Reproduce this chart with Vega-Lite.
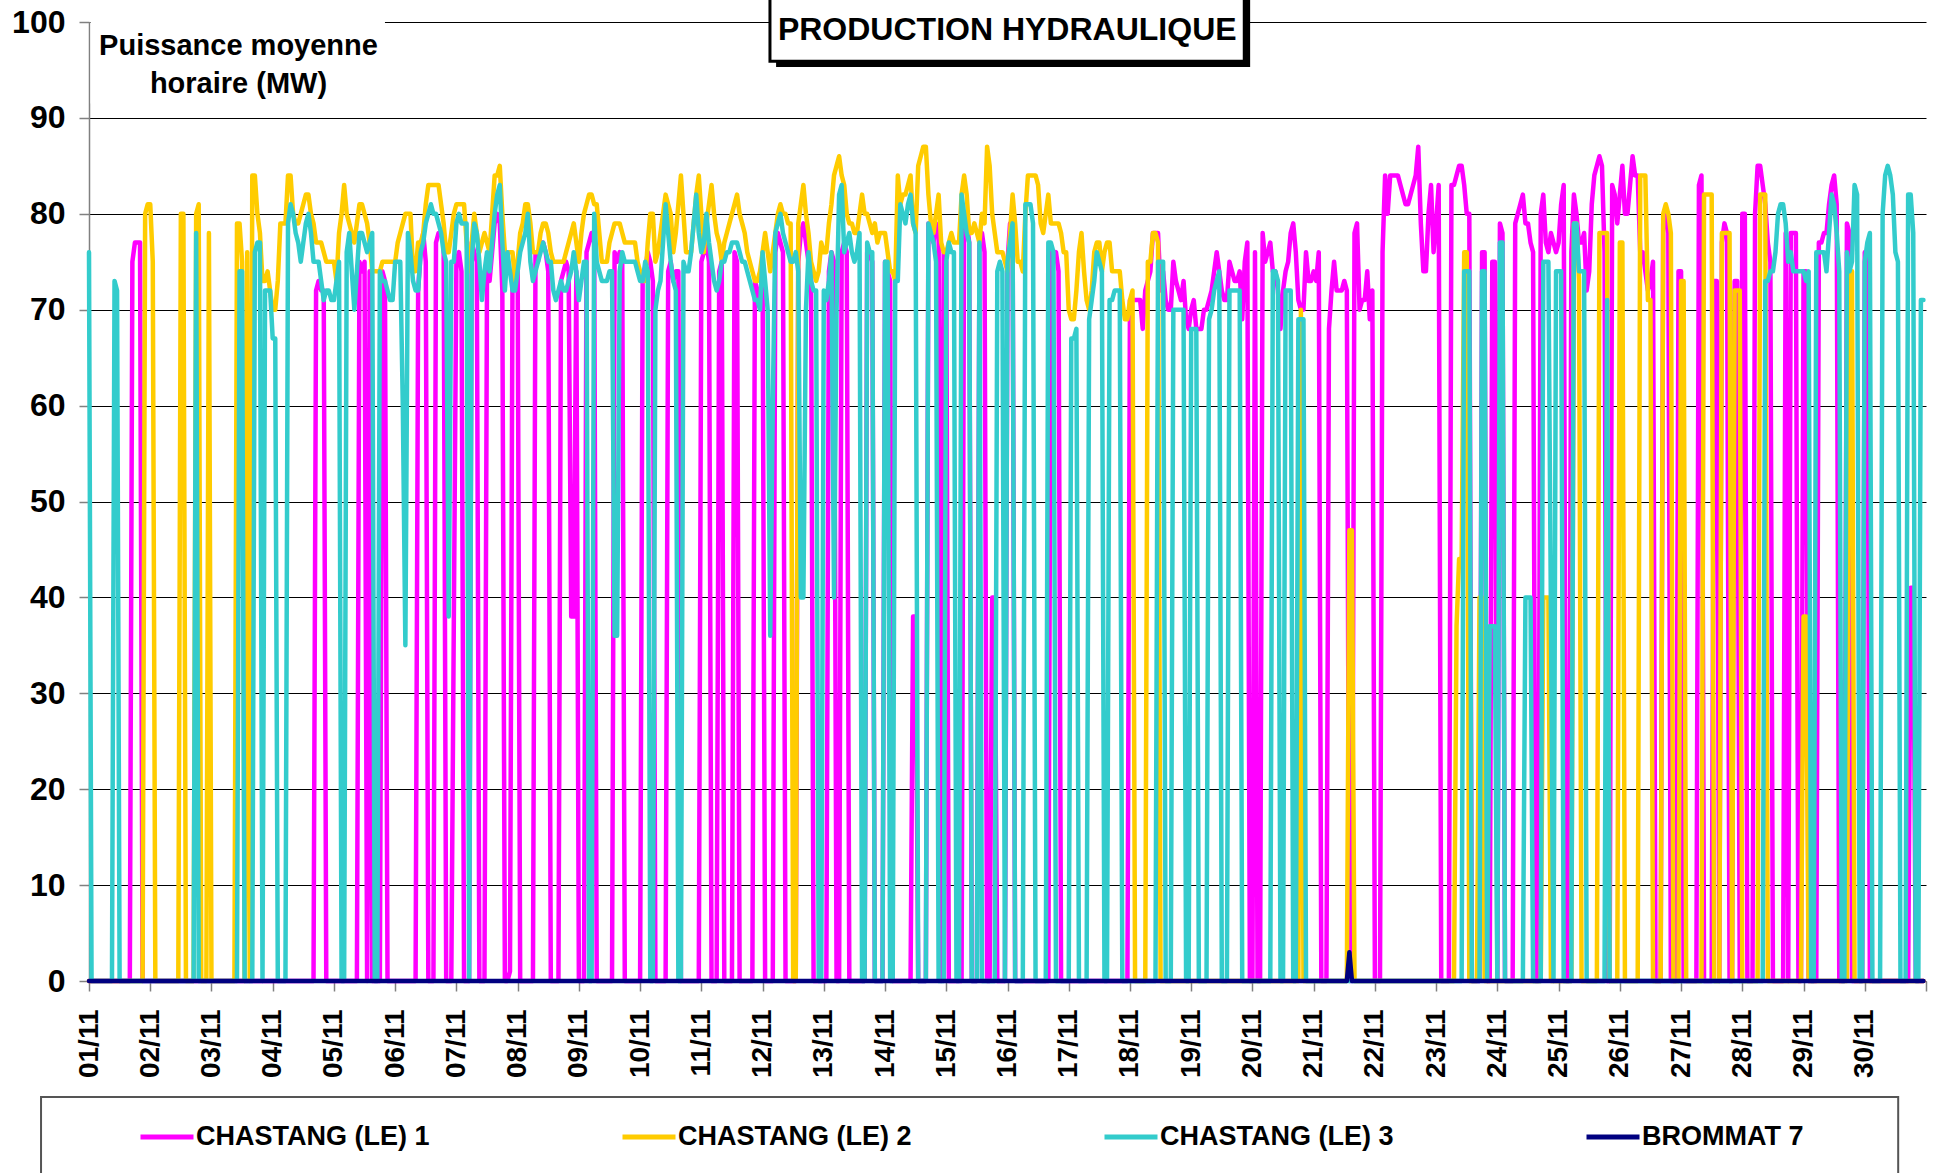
{
"$schema": "https://vega.github.io/schema/vega-lite/v6.json",
"width": 1837, "height": 959,
"autosize": {"type": "none"},
"padding": {"left": 89, "top": 22, "right": 7, "bottom": 192},
"background": "white",
"config": {"view": {"stroke": null}, "font": "Liberation Sans"},
"datasets": {"p": [
{"h":0,"a":0,"b":0,"c":76,"d":0},{"h":1,"a":0,"b":0,"c":0,"d":0},{"h":2,"a":0,"b":0,"c":0,"d":0},{"h":3,"a":0,"b":0,"c":0,"d":0},{"h":4,"a":0,"b":0,"c":0,"d":0},{"h":5,"a":0,"b":0,"c":0,"d":0},{"h":6,"a":0,"b":0,"c":0,"d":0},{"h":7,"a":0,"b":0,"c":0,"d":0},{"h":8,"a":0,"b":0,"c":0,"d":0},{"h":9,"a":0,"b":0,"c":0,"d":0},{"h":10,"a":0,"b":0,"c":73,"d":0},{"h":11,"a":0,"b":0,"c":72,"d":0},{"h":12,"a":0,"b":0,"c":0,"d":0},{"h":13,"a":0,"b":0,"c":0,"d":0},{"h":14,"a":0,"b":0,"c":0,"d":0},{"h":15,"a":0,"b":0,"c":0,"d":0},{"h":16,"a":0,"b":0,"c":0,"d":0},{"h":17,"a":75,"b":0,"c":0,"d":0},{"h":18,"a":77,"b":0,"c":0,"d":0},{"h":19,"a":77,"b":0,"c":0,"d":0},{"h":20,"a":77,"b":0,"c":0,"d":0},{"h":21,"a":0,"b":0,"c":0,"d":0},{"h":22,"a":0,"b":80,"c":0,"d":0},{"h":23,"a":0,"b":81,"c":0,"d":0},
{"h":24,"a":0,"b":81,"c":0,"d":0},{"h":25,"a":0,"b":75,"c":0,"d":0},{"h":26,"a":0,"b":0,"c":0,"d":0},{"h":27,"a":0,"b":0,"c":0,"d":0},{"h":28,"a":0,"b":0,"c":0,"d":0},{"h":29,"a":0,"b":0,"c":0,"d":0},{"h":30,"a":0,"b":0,"c":0,"d":0},{"h":31,"a":0,"b":0,"c":0,"d":0},{"h":32,"a":0,"b":0,"c":0,"d":0},{"h":33,"a":0,"b":0,"c":0,"d":0},{"h":34,"a":0,"b":0,"c":0,"d":0},{"h":35,"a":0,"b":0,"c":0,"d":0},{"h":36,"a":0,"b":80,"c":0,"d":0},{"h":37,"a":0,"b":80,"c":0,"d":0},{"h":38,"a":0,"b":0,"c":0,"d":0},{"h":39,"a":0,"b":0,"c":0,"d":0},{"h":40,"a":0,"b":0,"c":0,"d":0},{"h":41,"a":0,"b":0,"c":0,"d":0},{"h":42,"a":0,"b":80,"c":78,"d":0},{"h":43,"a":0,"b":81,"c":0,"d":0},{"h":44,"a":0,"b":0,"c":0,"d":0},{"h":45,"a":0,"b":0,"c":0,"d":0},{"h":46,"a":0,"b":0,"c":0,"d":0},{"h":47,"a":0,"b":78,"c":0,"d":0},
{"h":48,"a":0,"b":0,"c":0,"d":0},{"h":49,"a":0,"b":0,"c":0,"d":0},{"h":50,"a":0,"b":0,"c":0,"d":0},{"h":51,"a":0,"b":0,"c":0,"d":0},{"h":52,"a":0,"b":0,"c":0,"d":0},{"h":53,"a":0,"b":0,"c":0,"d":0},{"h":54,"a":0,"b":0,"c":0,"d":0},{"h":55,"a":0,"b":0,"c":0,"d":0},{"h":56,"a":0,"b":0,"c":0,"d":0},{"h":57,"a":0,"b":0,"c":0,"d":0},{"h":58,"a":0,"b":79,"c":0,"d":0},{"h":59,"a":0,"b":79,"c":74,"d":0},{"h":60,"a":0,"b":75,"c":74,"d":0},{"h":61,"a":0,"b":0,"c":0,"d":0},{"h":62,"a":0,"b":76,"c":0,"d":0},{"h":63,"a":0,"b":0,"c":0,"d":0},{"h":64,"a":0,"b":84,"c":0,"d":0},{"h":65,"a":0,"b":84,"c":76,"d":0},{"h":66,"a":0,"b":80,"c":77,"d":0},{"h":67,"a":0,"b":78,"c":77,"d":0},{"h":68,"a":0,"b":73,"c":0,"d":0},{"h":69,"a":0,"b":73,"c":72,"d":0},{"h":70,"a":0,"b":74,"c":72,"d":0},{"h":71,"a":0,"b":72,"c":72,"d":0},
{"h":72,"a":0,"b":70,"c":67,"d":0},{"h":73,"a":0,"b":70,"c":67,"d":0},{"h":74,"a":0,"b":73,"c":0,"d":0},{"h":75,"a":0,"b":79,"c":0,"d":0},{"h":76,"a":0,"b":79,"c":0,"d":0},{"h":77,"a":0,"b":79,"c":0,"d":0},{"h":78,"a":0,"b":84,"c":79,"d":0},{"h":79,"a":0,"b":84,"c":81,"d":0},{"h":80,"a":0,"b":80,"c":80,"d":0},{"h":81,"a":0,"b":79,"c":78,"d":0},{"h":82,"a":0,"b":79,"c":77,"d":0},{"h":83,"a":0,"b":80,"c":75,"d":0},{"h":84,"a":0,"b":81,"c":77,"d":0},{"h":85,"a":0,"b":82,"c":79,"d":0},{"h":86,"a":0,"b":82,"c":80,"d":0},{"h":87,"a":0,"b":80,"c":78,"d":0},{"h":88,"a":0,"b":79,"c":75,"d":0},{"h":89,"a":72,"b":77,"c":75,"d":0},{"h":90,"a":73,"b":77,"c":75,"d":0},{"h":91,"a":72,"b":77,"c":73,"d":0},{"h":92,"a":72,"b":76,"c":71,"d":0},{"h":93,"a":0,"b":75,"c":72,"d":0},{"h":94,"a":0,"b":75,"c":72,"d":0},{"h":95,"a":0,"b":75,"c":71,"d":0},
{"h":96,"a":0,"b":75,"c":71,"d":0},{"h":97,"a":0,"b":73,"c":73,"d":0},{"h":98,"a":0,"b":78,"c":75,"d":0},{"h":99,"a":0,"b":80,"c":0,"d":0},{"h":100,"a":0,"b":83,"c":0,"d":0},{"h":101,"a":0,"b":80,"c":76,"d":0},{"h":102,"a":0,"b":79,"c":78,"d":0},{"h":103,"a":0,"b":78,"c":74,"d":0},{"h":104,"a":0,"b":77,"c":70,"d":0},{"h":105,"a":0,"b":79,"c":74,"d":0},{"h":106,"a":75,"b":81,"c":78,"d":0},{"h":107,"a":74,"b":81,"c":78,"d":0},{"h":108,"a":75,"b":80,"c":77,"d":0},{"h":109,"a":0,"b":79,"c":76,"d":0},{"h":110,"a":74,"b":77,"c":77,"d":0},{"h":111,"a":0,"b":74,"c":78,"d":0},{"h":112,"a":0,"b":74,"c":0,"d":0},{"h":113,"a":0,"b":74,"c":0,"d":0},{"h":114,"a":0,"b":74,"c":74,"d":0},{"h":115,"a":74,"b":75,"c":73,"d":0},{"h":116,"a":73,"b":75,"c":73,"d":0},{"h":117,"a":0,"b":75,"c":72,"d":0},{"h":118,"a":0,"b":75,"c":71,"d":0},{"h":119,"a":0,"b":75,"c":71,"d":0},
{"h":120,"a":0,"b":75,"c":75,"d":0},{"h":121,"a":0,"b":77,"c":75,"d":0},{"h":122,"a":0,"b":78,"c":75,"d":0},{"h":123,"a":0,"b":79,"c":60,"d":0},{"h":124,"a":0,"b":80,"c":35,"d":0},{"h":125,"a":0,"b":80,"c":78,"d":0},{"h":126,"a":0,"b":80,"c":76,"d":0},{"h":127,"a":0,"b":74,"c":73,"d":0},{"h":128,"a":0,"b":74,"c":72,"d":0},{"h":129,"a":72,"b":77,"c":72,"d":0},{"h":130,"a":76,"b":77,"c":76,"d":0},{"h":131,"a":78,"b":78,"c":77,"d":0},{"h":132,"a":75,"b":81,"c":79,"d":0},{"h":133,"a":0,"b":83,"c":80,"d":0},{"h":134,"a":0,"b":83,"c":81,"d":0},{"h":135,"a":0,"b":83,"c":80,"d":0},{"h":136,"a":77,"b":83,"c":80,"d":0},{"h":137,"a":78,"b":83,"c":79,"d":0},{"h":138,"a":78,"b":81,"c":78,"d":0},{"h":139,"a":77,"b":79,"c":76,"d":0},{"h":140,"a":0,"b":76,"c":75,"d":0},{"h":141,"a":0,"b":76,"c":38,"d":0},{"h":142,"a":0,"b":78,"c":75,"d":0},{"h":143,"a":38,"b":80,"c":75,"d":0},
{"h":144,"a":75,"b":81,"c":79,"d":0},{"h":145,"a":76,"b":81,"c":80,"d":0},{"h":146,"a":74,"b":81,"c":79,"d":0},{"h":147,"a":0,"b":81,"c":79,"d":0},{"h":148,"a":0,"b":77,"c":79,"d":0},{"h":149,"a":0,"b":74,"c":0,"d":0},{"h":150,"a":77,"b":77,"c":75,"d":0},{"h":151,"a":76,"b":80,"c":79,"d":0},{"h":152,"a":75,"b":78,"c":78,"d":0},{"h":153,"a":0,"b":76,"c":75,"d":0},{"h":154,"a":0,"b":77,"c":71,"d":0},{"h":155,"a":0,"b":78,"c":74,"d":0},{"h":156,"a":74,"b":77,"c":76,"d":0},{"h":157,"a":73,"b":76,"c":74,"d":0},{"h":158,"a":76,"b":80,"c":77,"d":0},{"h":159,"a":79,"b":84,"c":80,"d":0},{"h":160,"a":80,"b":84,"c":82,"d":0},{"h":161,"a":79,"b":85,"c":83,"d":0},{"h":162,"a":72,"b":80,"c":77,"d":0},{"h":163,"a":0,"b":76,"c":72,"d":0},{"h":164,"a":0,"b":76,"c":76,"d":0},{"h":165,"a":1,"b":76,"c":74,"d":0},{"h":166,"a":74,"b":76,"c":72,"d":0},{"h":167,"a":73,"b":73,"c":72,"d":0},
{"h":168,"a":75,"b":75,"c":74,"d":0},{"h":169,"a":0,"b":78,"c":76,"d":0},{"h":170,"a":0,"b":79,"c":77,"d":0},{"h":171,"a":0,"b":81,"c":78,"d":0},{"h":172,"a":0,"b":81,"c":80,"d":0},{"h":173,"a":0,"b":79,"c":75,"d":0},{"h":174,"a":0,"b":76,"c":73,"d":0},{"h":175,"a":76,"b":76,"c":74,"d":0},{"h":176,"a":75,"b":76,"c":75,"d":0},{"h":177,"a":77,"b":78,"c":76,"d":0},{"h":178,"a":77,"b":79,"c":77,"d":0},{"h":179,"a":76,"b":79,"c":76,"d":0},{"h":180,"a":74,"b":78,"c":75,"d":0},{"h":181,"a":0,"b":76,"c":75,"d":0},{"h":182,"a":0,"b":75,"c":72,"d":0},{"h":183,"a":0,"b":75,"c":71,"d":0},{"h":184,"a":0,"b":75,"c":72,"d":0},{"h":185,"a":73,"b":75,"c":73,"d":0},{"h":186,"a":74,"b":75,"c":72,"d":0},{"h":187,"a":75,"b":76,"c":72,"d":0},{"h":188,"a":74,"b":77,"c":73,"d":0},{"h":189,"a":38,"b":78,"c":74,"d":0},{"h":190,"a":38,"b":79,"c":76,"d":0},{"h":191,"a":74,"b":77,"c":74,"d":0},
{"h":192,"a":0,"b":75,"c":71,"d":0},{"h":193,"a":0,"b":78,"c":73,"d":0},{"h":194,"a":0,"b":80,"c":75,"d":0},{"h":195,"a":76,"b":81,"c":75,"d":0},{"h":196,"a":77,"b":82,"c":0,"d":0},{"h":197,"a":78,"b":82,"c":0,"d":0},{"h":198,"a":77,"b":81,"c":80,"d":0},{"h":199,"a":0,"b":81,"c":75,"d":0},{"h":200,"a":0,"b":78,"c":74,"d":0},{"h":201,"a":0,"b":75,"c":73,"d":0},{"h":202,"a":0,"b":75,"c":73,"d":0},{"h":203,"a":0,"b":75,"c":73,"d":0},{"h":204,"a":0,"b":77,"c":74,"d":0},{"h":205,"a":0,"b":78,"c":74,"d":0},{"h":206,"a":76,"b":79,"c":36,"d":0},{"h":207,"a":75,"b":79,"c":36,"d":0},{"h":208,"a":76,"b":79,"c":74,"d":0},{"h":209,"a":75,"b":78,"c":76,"d":0},{"h":210,"a":0,"b":77,"c":75,"d":0},{"h":211,"a":0,"b":77,"c":75,"d":0},{"h":212,"a":0,"b":77,"c":75,"d":0},{"h":213,"a":0,"b":77,"c":75,"d":0},{"h":214,"a":0,"b":77,"c":75,"d":0},{"h":215,"a":0,"b":75,"c":74,"d":0},
{"h":216,"a":0,"b":74,"c":73,"d":0},{"h":217,"a":73,"b":73,"c":73,"d":0},{"h":218,"a":74,"b":73,"c":75,"d":0},{"h":219,"a":76,"b":77,"c":74,"d":0},{"h":220,"a":75,"b":80,"c":0,"d":0},{"h":221,"a":73,"b":80,"c":0,"d":0},{"h":222,"a":0,"b":75,"c":70,"d":0},{"h":223,"a":0,"b":76,"c":72,"d":0},{"h":224,"a":0,"b":78,"c":73,"d":0},{"h":225,"a":0,"b":80,"c":77,"d":0},{"h":226,"a":0,"b":82,"c":81,"d":0},{"h":227,"a":74,"b":81,"c":78,"d":0},{"h":228,"a":75,"b":80,"c":75,"d":0},{"h":229,"a":73,"b":76,"c":73,"d":0},{"h":230,"a":74,"b":78,"c":72,"d":0},{"h":231,"a":74,"b":81,"c":0,"d":0},{"h":232,"a":0,"b":84,"c":0,"d":0},{"h":233,"a":0,"b":80,"c":75,"d":0},{"h":234,"a":0,"b":76,"c":74,"d":0},{"h":235,"a":0,"b":76,"c":74,"d":0},{"h":236,"a":0,"b":76,"c":76,"d":0},{"h":237,"a":0,"b":79,"c":79,"d":0},{"h":238,"a":0,"b":82,"c":82,"d":0},{"h":239,"a":0,"b":84,"c":78,"d":0},
{"h":240,"a":75,"b":80,"c":76,"d":0},{"h":241,"a":76,"b":76,"c":77,"d":0},{"h":242,"a":77,"b":79,"c":80,"d":0},{"h":243,"a":75,"b":81,"c":77,"d":0},{"h":244,"a":0,"b":83,"c":75,"d":0},{"h":245,"a":0,"b":80,"c":73,"d":0},{"h":246,"a":0,"b":78,"c":72,"d":0},{"h":247,"a":74,"b":77,"c":73,"d":0},{"h":248,"a":75,"b":75,"c":75,"d":0},{"h":249,"a":0,"b":77,"c":75,"d":0},{"h":250,"a":0,"b":78,"c":76,"d":0},{"h":251,"a":0,"b":79,"c":76,"d":0},{"h":252,"a":0,"b":80,"c":77,"d":0},{"h":253,"a":76,"b":81,"c":77,"d":0},{"h":254,"a":75,"b":82,"c":77,"d":0},{"h":255,"a":0,"b":80,"c":76,"d":0},{"h":256,"a":0,"b":79,"c":75,"d":0},{"h":257,"a":0,"b":78,"c":75,"d":0},{"h":258,"a":0,"b":76,"c":74,"d":0},{"h":259,"a":0,"b":75,"c":73,"d":0},{"h":260,"a":0,"b":74,"c":72,"d":0},{"h":261,"a":73,"b":73,"c":71,"d":0},{"h":262,"a":72,"b":73,"c":71,"d":0},{"h":263,"a":71,"b":74,"c":70,"d":0},
{"h":264,"a":74,"b":76,"c":76,"d":0},{"h":265,"a":0,"b":78,"c":73,"d":0},{"h":266,"a":0,"b":76,"c":70,"d":0},{"h":267,"a":0,"b":74,"c":36,"d":0},{"h":268,"a":0,"b":76,"c":60,"d":0},{"h":269,"a":76,"b":78,"c":78,"d":0},{"h":270,"a":78,"b":80,"c":79,"d":0},{"h":271,"a":77,"b":81,"c":80,"d":0},{"h":272,"a":76,"b":80,"c":78,"d":0},{"h":273,"a":0,"b":80,"c":77,"d":0},{"h":274,"a":0,"b":79,"c":76,"d":0},{"h":275,"a":0,"b":79,"c":75,"d":0},{"h":276,"a":0,"b":0,"c":75,"d":0},{"h":277,"a":0,"b":0,"c":76,"d":0},{"h":278,"a":75,"b":79,"c":74,"d":0},{"h":279,"a":78,"b":81,"c":40,"d":0},{"h":280,"a":79,"b":83,"c":40,"d":0},{"h":281,"a":77,"b":80,"c":70,"d":0},{"h":282,"a":75,"b":78,"c":76,"d":0},{"h":283,"a":74,"b":75,"c":73,"d":0},{"h":284,"a":0,"b":74,"c":72,"d":0},{"h":285,"a":0,"b":73,"c":72,"d":0},{"h":286,"a":0,"b":74,"c":0,"d":0},{"h":287,"a":0,"b":77,"c":0,"d":0},
{"h":288,"a":0,"b":76,"c":72,"d":0},{"h":289,"a":0,"b":76,"c":71,"d":0},{"h":290,"a":74,"b":79,"c":73,"d":0},{"h":291,"a":76,"b":81,"c":76,"d":0},{"h":292,"a":75,"b":84,"c":40,"d":0},{"h":293,"a":0,"b":85,"c":70,"d":0},{"h":294,"a":0,"b":86,"c":82,"d":0},{"h":295,"a":76,"b":84,"c":83,"d":0},{"h":296,"a":77,"b":83,"c":76,"d":0},{"h":297,"a":76,"b":80,"c":77,"d":0},{"h":298,"a":0,"b":79,"c":78,"d":0},{"h":299,"a":0,"b":79,"c":76,"d":0},{"h":300,"a":0,"b":78,"c":75,"d":0},{"h":301,"a":0,"b":78,"c":76,"d":0},{"h":302,"a":0,"b":80,"c":78,"d":0},{"h":303,"a":0,"b":82,"c":0,"d":0},{"h":304,"a":0,"b":80,"c":0,"d":0},{"h":305,"a":76,"b":80,"c":77,"d":0},{"h":306,"a":76,"b":79,"c":76,"d":0},{"h":307,"a":75,"b":78,"c":76,"d":0},{"h":308,"a":0,"b":79,"c":0,"d":0},{"h":309,"a":0,"b":77,"c":0,"d":0},{"h":310,"a":0,"b":78,"c":0,"d":0},{"h":311,"a":0,"b":78,"c":0,"d":0},
{"h":312,"a":75,"b":78,"c":75,"d":0},{"h":313,"a":74,"b":76,"c":75,"d":0},{"h":314,"a":73,"b":74,"c":0,"d":0},{"h":315,"a":0,"b":74,"c":0,"d":0},{"h":316,"a":0,"b":73,"c":73,"d":0},{"h":317,"a":0,"b":84,"c":73,"d":0},{"h":318,"a":0,"b":81,"c":81,"d":0},{"h":319,"a":0,"b":82,"c":80,"d":0},{"h":320,"a":0,"b":82,"c":79,"d":0},{"h":321,"a":0,"b":83,"c":81,"d":0},{"h":322,"a":0,"b":84,"c":82,"d":0},{"h":323,"a":38,"b":79,"c":79,"d":0},{"h":324,"a":38,"b":78,"c":78,"d":0},{"h":325,"a":0,"b":85,"c":0,"d":0},{"h":326,"a":0,"b":86,"c":0,"d":0},{"h":327,"a":0,"b":87,"c":0,"d":0},{"h":328,"a":0,"b":87,"c":0,"d":0},{"h":329,"a":79,"b":82,"c":79,"d":0},{"h":330,"a":78,"b":79,"c":78,"d":0},{"h":331,"a":77,"b":78,"c":77,"d":0},{"h":332,"a":79,"b":80,"c":75,"d":0},{"h":333,"a":78,"b":82,"c":0,"d":0},{"h":334,"a":0,"b":77,"c":0,"d":0},{"h":335,"a":76,"b":76,"c":0,"d":0},
{"h":336,"a":75,"b":76,"c":75,"d":0},{"h":337,"a":0,"b":77,"c":77,"d":0},{"h":338,"a":0,"b":78,"c":76,"d":0},{"h":339,"a":0,"b":77,"c":76,"d":0},{"h":340,"a":0,"b":77,"c":0,"d":0},{"h":341,"a":0,"b":77,"c":0,"d":0},{"h":342,"a":0,"b":82,"c":82,"d":0},{"h":343,"a":80,"b":84,"c":80,"d":0},{"h":344,"a":79,"b":82,"c":78,"d":0},{"h":345,"a":77,"b":78,"c":77,"d":0},{"h":346,"a":0,"b":78,"c":0,"d":0},{"h":347,"a":0,"b":79,"c":0,"d":0},{"h":348,"a":0,"b":78,"c":0,"d":0},{"h":349,"a":77,"b":77,"c":77,"d":0},{"h":350,"a":78,"b":80,"c":0,"d":0},{"h":351,"a":76,"b":79,"c":0,"d":0},{"h":352,"a":0,"b":87,"c":0,"d":0},{"h":353,"a":0,"b":85,"c":0,"d":0},{"h":354,"a":40,"b":80,"c":0,"d":0},{"h":355,"a":40,"b":78,"c":0,"d":0},{"h":356,"a":0,"b":76,"c":74,"d":0},{"h":357,"a":0,"b":76,"c":75,"d":0},{"h":358,"a":0,"b":76,"c":74,"d":0},{"h":359,"a":0,"b":75,"c":0,"d":0},
{"h":360,"a":75,"b":74,"c":75,"d":0},{"h":361,"a":79,"b":78,"c":77,"d":0},{"h":362,"a":78,"b":82,"c":79,"d":0},{"h":363,"a":0,"b":79,"c":0,"d":0},{"h":364,"a":0,"b":75,"c":0,"d":0},{"h":365,"a":0,"b":75,"c":0,"d":0},{"h":366,"a":0,"b":74,"c":0,"d":0},{"h":367,"a":0,"b":80,"c":81,"d":0},{"h":368,"a":0,"b":84,"c":81,"d":0},{"h":369,"a":0,"b":84,"c":81,"d":0},{"h":370,"a":0,"b":84,"c":79,"d":0},{"h":371,"a":0,"b":84,"c":0,"d":0},{"h":372,"a":0,"b":83,"c":0,"d":0},{"h":373,"a":0,"b":79,"c":0,"d":0},{"h":374,"a":0,"b":78,"c":0,"d":0},{"h":375,"a":0,"b":80,"c":0,"d":0},{"h":376,"a":0,"b":82,"c":77,"d":0},{"h":377,"a":76,"b":79,"c":77,"d":0},{"h":378,"a":75,"b":79,"c":76,"d":0},{"h":379,"a":76,"b":79,"c":0,"d":0},{"h":380,"a":74,"b":79,"c":0,"d":0},{"h":381,"a":0,"b":78,"c":0,"d":0},{"h":382,"a":0,"b":76,"c":0,"d":0},{"h":383,"a":0,"b":76,"c":0,"d":0},
{"h":384,"a":0,"b":70,"c":0,"d":0},{"h":385,"a":0,"b":69,"c":67,"d":0},{"h":386,"a":0,"b":69,"c":67,"d":0},{"h":387,"a":0,"b":72,"c":68,"d":0},{"h":388,"a":0,"b":76,"c":0,"d":0},{"h":389,"a":0,"b":78,"c":0,"d":0},{"h":390,"a":0,"b":74,"c":0,"d":0},{"h":391,"a":0,"b":71,"c":0,"d":0},{"h":392,"a":0,"b":70,"c":69,"d":0},{"h":393,"a":0,"b":72,"c":71,"d":0},{"h":394,"a":0,"b":76,"c":73,"d":0},{"h":395,"a":0,"b":77,"c":76,"d":0},{"h":396,"a":0,"b":77,"c":75,"d":0},{"h":397,"a":0,"b":74,"c":74,"d":0},{"h":398,"a":0,"b":76,"c":0,"d":0},{"h":399,"a":0,"b":77,"c":0,"d":0},{"h":400,"a":0,"b":77,"c":71,"d":0},{"h":401,"a":0,"b":74,"c":71,"d":0},{"h":402,"a":0,"b":74,"c":72,"d":0},{"h":403,"a":0,"b":74,"c":72,"d":0},{"h":404,"a":0,"b":74,"c":72,"d":0},{"h":405,"a":0,"b":71,"c":0,"d":0},{"h":406,"a":0,"b":69,"c":0,"d":0},{"h":407,"a":0,"b":69,"c":0,"d":0},
{"h":408,"a":71,"b":71,"c":0,"d":0},{"h":409,"a":71,"b":72,"c":0,"d":0},{"h":410,"a":71,"b":0,"c":0,"d":0},{"h":411,"a":71,"b":0,"c":0,"d":0},{"h":412,"a":71,"b":0,"c":0,"d":0},{"h":413,"a":68,"b":0,"c":0,"d":0},{"h":414,"a":72,"b":0,"c":0,"d":0},{"h":415,"a":73,"b":75,"c":0,"d":0},{"h":416,"a":74,"b":75,"c":0,"d":0},{"h":417,"a":78,"b":78,"c":0,"d":0},{"h":418,"a":78,"b":78,"c":0,"d":0},{"h":419,"a":78,"b":77,"c":75,"d":0},{"h":420,"a":72,"b":0,"c":75,"d":0},{"h":421,"a":74,"b":0,"c":75,"d":0},{"h":422,"a":71,"b":0,"c":0,"d":0},{"h":423,"a":70,"b":0,"c":0,"d":0},{"h":424,"a":70,"b":0,"c":0,"d":0},{"h":425,"a":75,"b":0,"c":70,"d":0},{"h":426,"a":73,"b":0,"c":70,"d":0},{"h":427,"a":72,"b":0,"c":70,"d":0},{"h":428,"a":71,"b":0,"c":70,"d":0},{"h":429,"a":73,"b":0,"c":70,"d":0},{"h":430,"a":69,"b":0,"c":0,"d":0},{"h":431,"a":68,"b":0,"c":0,"d":0},
{"h":432,"a":70,"b":0,"c":68,"d":0},{"h":433,"a":71,"b":0,"c":68,"d":0},{"h":434,"a":68,"b":0,"c":68,"d":0},{"h":435,"a":68,"b":0,"c":0,"d":0},{"h":436,"a":68,"b":0,"c":0,"d":0},{"h":437,"a":70,"b":0,"c":0,"d":0},{"h":438,"a":70,"b":0,"c":0,"d":0},{"h":439,"a":71,"b":0,"c":69,"d":0},{"h":440,"a":72,"b":0,"c":70,"d":0},{"h":441,"a":74,"b":0,"c":72,"d":0},{"h":442,"a":76,"b":0,"c":73,"d":0},{"h":443,"a":74,"b":0,"c":74,"d":0},{"h":444,"a":72,"b":0,"c":0,"d":0},{"h":445,"a":71,"b":0,"c":0,"d":0},{"h":446,"a":71,"b":0,"c":0,"d":0},{"h":447,"a":75,"b":0,"c":72,"d":0},{"h":448,"a":74,"b":0,"c":72,"d":0},{"h":449,"a":73,"b":0,"c":72,"d":0},{"h":450,"a":73,"b":0,"c":72,"d":0},{"h":451,"a":74,"b":0,"c":72,"d":0},{"h":452,"a":69,"b":0,"c":0,"d":0},{"h":453,"a":75,"b":0,"c":0,"d":0},{"h":454,"a":77,"b":0,"c":0,"d":0},{"h":455,"a":0,"b":0,"c":0,"d":0},
{"h":456,"a":0,"b":0,"c":0,"d":0},{"h":457,"a":76,"b":0,"c":0,"d":0},{"h":458,"a":0,"b":0,"c":0,"d":0},{"h":459,"a":0,"b":0,"c":0,"d":0},{"h":460,"a":78,"b":0,"c":0,"d":0},{"h":461,"a":75,"b":0,"c":0,"d":0},{"h":462,"a":76,"b":0,"c":0,"d":0},{"h":463,"a":77,"b":0,"c":0,"d":0},{"h":464,"a":74,"b":0,"c":74,"d":0},{"h":465,"a":74,"b":0,"c":74,"d":0},{"h":466,"a":72,"b":0,"c":73,"d":0},{"h":467,"a":68,"b":0,"c":0,"d":0},{"h":468,"a":72,"b":0,"c":0,"d":0},{"h":469,"a":74,"b":0,"c":72,"d":0},{"h":470,"a":75,"b":0,"c":72,"d":0},{"h":471,"a":78,"b":0,"c":72,"d":0},{"h":472,"a":79,"b":0,"c":0,"d":0},{"h":473,"a":76,"b":0,"c":0,"d":0},{"h":474,"a":71,"b":0,"c":69,"d":0},{"h":475,"a":70,"b":70,"c":69,"d":0},{"h":476,"a":70,"b":0,"c":69,"d":0},{"h":477,"a":76,"b":0,"c":0,"d":0},{"h":478,"a":73,"b":0,"c":0,"d":0},{"h":479,"a":73,"b":0,"c":0,"d":0},
{"h":480,"a":74,"b":0,"c":0,"d":0},{"h":481,"a":73,"b":0,"c":0,"d":0},{"h":482,"a":76,"b":0,"c":0,"d":0},{"h":483,"a":0,"b":0,"c":0,"d":0},{"h":484,"a":0,"b":0,"c":0,"d":0},{"h":485,"a":0,"b":0,"c":0,"d":0},{"h":486,"a":68,"b":0,"c":0,"d":0},{"h":487,"a":72,"b":0,"c":0,"d":0},{"h":488,"a":75,"b":0,"c":0,"d":0},{"h":489,"a":72,"b":0,"c":0,"d":0},{"h":490,"a":72,"b":0,"c":0,"d":0},{"h":491,"a":72,"b":0,"c":0,"d":0},{"h":492,"a":73,"b":0,"c":0,"d":0},{"h":493,"a":72,"b":0,"c":0,"d":0},{"h":494,"a":0,"b":47,"c":0,"d":3},{"h":495,"a":0,"b":47,"c":0,"d":0},{"h":496,"a":78,"b":0,"c":0,"d":0},{"h":497,"a":79,"b":0,"c":0,"d":0},{"h":498,"a":70,"b":0,"c":0,"d":0},{"h":499,"a":71,"b":0,"c":0,"d":0},{"h":500,"a":71,"b":0,"c":0,"d":0},{"h":501,"a":74,"b":0,"c":0,"d":0},{"h":502,"a":69,"b":0,"c":0,"d":0},{"h":503,"a":72,"b":0,"c":0,"d":0},
{"h":504,"a":0,"b":0,"c":0,"d":0},{"h":505,"a":0,"b":0,"c":0,"d":0},{"h":506,"a":0,"b":0,"c":0,"d":0},{"h":507,"a":76,"b":0,"c":0,"d":0},{"h":508,"a":84,"b":0,"c":0,"d":0},{"h":509,"a":80,"b":0,"c":0,"d":0},{"h":510,"a":84,"b":0,"c":0,"d":0},{"h":511,"a":84,"b":0,"c":0,"d":0},{"h":512,"a":84,"b":0,"c":0,"d":0},{"h":513,"a":84,"b":0,"c":0,"d":0},{"h":514,"a":83,"b":0,"c":0,"d":0},{"h":515,"a":82,"b":0,"c":0,"d":0},{"h":516,"a":81,"b":0,"c":0,"d":0},{"h":517,"a":81,"b":0,"c":0,"d":0},{"h":518,"a":82,"b":0,"c":0,"d":0},{"h":519,"a":83,"b":0,"c":0,"d":0},{"h":520,"a":84,"b":0,"c":0,"d":0},{"h":521,"a":87,"b":0,"c":0,"d":0},{"h":522,"a":79,"b":0,"c":0,"d":0},{"h":523,"a":74,"b":0,"c":0,"d":0},{"h":524,"a":74,"b":0,"c":0,"d":0},{"h":525,"a":80,"b":0,"c":0,"d":0},{"h":526,"a":83,"b":0,"c":0,"d":0},{"h":527,"a":76,"b":0,"c":0,"d":0},
{"h":528,"a":79,"b":0,"c":0,"d":0},{"h":529,"a":83,"b":0,"c":0,"d":0},{"h":530,"a":0,"b":0,"c":0,"d":0},{"h":531,"a":0,"b":0,"c":0,"d":0},{"h":532,"a":0,"b":0,"c":0,"d":0},{"h":533,"a":0,"b":0,"c":0,"d":0},{"h":534,"a":83,"b":0,"c":0,"d":0},{"h":535,"a":83,"b":0,"c":0,"d":0},{"h":536,"a":84,"b":37,"c":0,"d":0},{"h":537,"a":85,"b":44,"c":0,"d":0},{"h":538,"a":85,"b":44,"c":0,"d":0},{"h":539,"a":83,"b":76,"c":74,"d":0},{"h":540,"a":80,"b":76,"c":74,"d":0},{"h":541,"a":80,"b":0,"c":74,"d":0},{"h":542,"a":0,"b":0,"c":0,"d":0},{"h":543,"a":0,"b":0,"c":0,"d":0},{"h":544,"a":0,"b":0,"c":0,"d":0},{"h":545,"a":0,"b":40,"c":0,"d":0},{"h":546,"a":76,"b":40,"c":74,"d":0},{"h":547,"a":76,"b":0,"c":74,"d":0},{"h":548,"a":0,"b":0,"c":0,"d":0},{"h":549,"a":0,"b":0,"c":37,"d":0},{"h":550,"a":75,"b":0,"c":37,"d":0},{"h":551,"a":75,"b":0,"c":37,"d":0},
{"h":552,"a":0,"b":0,"c":0,"d":0},{"h":553,"a":79,"b":0,"c":77,"d":0},{"h":554,"a":78,"b":0,"c":77,"d":0},{"h":555,"a":0,"b":0,"c":0,"d":0},{"h":556,"a":0,"b":0,"c":0,"d":0},{"h":557,"a":0,"b":0,"c":0,"d":0},{"h":558,"a":0,"b":0,"c":0,"d":0},{"h":559,"a":79,"b":0,"c":0,"d":0},{"h":560,"a":80,"b":0,"c":0,"d":0},{"h":561,"a":81,"b":0,"c":0,"d":0},{"h":562,"a":82,"b":0,"c":0,"d":0},{"h":563,"a":79,"b":0,"c":40,"d":0},{"h":564,"a":79,"b":0,"c":40,"d":0},{"h":565,"a":77,"b":0,"c":40,"d":0},{"h":566,"a":76,"b":0,"c":0,"d":0},{"h":567,"a":0,"b":0,"c":0,"d":0},{"h":568,"a":0,"b":0,"c":0,"d":0},{"h":569,"a":80,"b":0,"c":0,"d":0},{"h":570,"a":82,"b":40,"c":75,"d":0},{"h":571,"a":77,"b":40,"c":75,"d":0},{"h":572,"a":76,"b":40,"c":75,"d":0},{"h":573,"a":78,"b":0,"c":38,"d":0},{"h":574,"a":77,"b":0,"c":0,"d":0},{"h":575,"a":76,"b":0,"c":74,"d":0},
{"h":576,"a":77,"b":0,"c":74,"d":0},{"h":577,"a":81,"b":0,"c":74,"d":0},{"h":578,"a":83,"b":0,"c":0,"d":0},{"h":579,"a":0,"b":0,"c":0,"d":0},{"h":580,"a":0,"b":0,"c":0,"d":0},{"h":581,"a":76,"b":0,"c":0,"d":0},{"h":582,"a":82,"b":79,"c":79,"d":0},{"h":583,"a":80,"b":79,"c":79,"d":0},{"h":584,"a":77,"b":73,"c":74,"d":0},{"h":585,"a":77,"b":0,"c":74,"d":0},{"h":586,"a":78,"b":0,"c":74,"d":0},{"h":587,"a":72,"b":0,"c":0,"d":0},{"h":588,"a":74,"b":0,"c":0,"d":0},{"h":589,"a":81,"b":0,"c":0,"d":0},{"h":590,"a":84,"b":0,"c":0,"d":0},{"h":591,"a":85,"b":0,"c":0,"d":0},{"h":592,"a":86,"b":78,"c":0,"d":0},{"h":593,"a":85,"b":78,"c":0,"d":0},{"h":594,"a":76,"b":78,"c":0,"d":0},{"h":595,"a":0,"b":78,"c":71,"d":0},{"h":596,"a":0,"b":0,"c":0,"d":0},{"h":597,"a":83,"b":0,"c":0,"d":0},{"h":598,"a":82,"b":0,"c":0,"d":0},{"h":599,"a":79,"b":0,"c":0,"d":0},
{"h":600,"a":82,"b":77,"c":0,"d":0},{"h":601,"a":85,"b":77,"c":0,"d":0},{"h":602,"a":80,"b":0,"c":0,"d":0},{"h":603,"a":80,"b":0,"c":0,"d":0},{"h":604,"a":83,"b":0,"c":0,"d":0},{"h":605,"a":86,"b":0,"c":0,"d":0},{"h":606,"a":84,"b":0,"c":0,"d":0},{"h":607,"a":84,"b":0,"c":0,"d":0},{"h":608,"a":76,"b":84,"c":0,"d":0},{"h":609,"a":76,"b":84,"c":0,"d":0},{"h":610,"a":74,"b":84,"c":0,"d":0},{"h":611,"a":72,"b":71,"c":0,"d":0},{"h":612,"a":73,"b":71,"c":0,"d":0},{"h":613,"a":75,"b":0,"c":0,"d":0},{"h":614,"a":0,"b":0,"c":0,"d":0},{"h":615,"a":0,"b":0,"c":0,"d":0},{"h":616,"a":0,"b":0,"c":0,"d":0},{"h":617,"a":79,"b":80,"c":0,"d":0},{"h":618,"a":80,"b":81,"c":0,"d":0},{"h":619,"a":78,"b":80,"c":0,"d":0},{"h":620,"a":0,"b":78,"c":0,"d":0},{"h":621,"a":0,"b":0,"c":0,"d":0},{"h":622,"a":0,"b":0,"c":0,"d":0},{"h":623,"a":74,"b":0,"c":0,"d":0},
{"h":624,"a":74,"b":73,"c":0,"d":0},{"h":625,"a":0,"b":73,"c":0,"d":0},{"h":626,"a":0,"b":0,"c":0,"d":0},{"h":627,"a":0,"b":0,"c":0,"d":0},{"h":628,"a":0,"b":0,"c":0,"d":0},{"h":629,"a":0,"b":0,"c":0,"d":0},{"h":630,"a":0,"b":0,"c":0,"d":0},{"h":631,"a":83,"b":0,"c":0,"d":0},{"h":632,"a":84,"b":0,"c":0,"d":0},{"h":633,"a":0,"b":82,"c":0,"d":0},{"h":634,"a":0,"b":82,"c":0,"d":0},{"h":635,"a":0,"b":82,"c":0,"d":0},{"h":636,"a":0,"b":82,"c":0,"d":0},{"h":637,"a":73,"b":0,"c":0,"d":0},{"h":638,"a":73,"b":0,"c":0,"d":0},{"h":639,"a":0,"b":0,"c":0,"d":0},{"h":640,"a":77,"b":78,"c":0,"d":0},{"h":641,"a":79,"b":78,"c":0,"d":0},{"h":642,"a":78,"b":78,"c":0,"d":0},{"h":643,"a":0,"b":78,"c":0,"d":0},{"h":644,"a":0,"b":0,"c":0,"d":0},{"h":645,"a":73,"b":72,"c":0,"d":0},{"h":646,"a":73,"b":72,"c":0,"d":0},{"h":647,"a":0,"b":72,"c":0,"d":0},
{"h":648,"a":80,"b":0,"c":0,"d":0},{"h":649,"a":80,"b":0,"c":0,"d":0},{"h":650,"a":0,"b":0,"c":0,"d":0},{"h":651,"a":0,"b":0,"c":0,"d":0},{"h":652,"a":0,"b":0,"c":0,"d":0},{"h":653,"a":80,"b":0,"c":0,"d":0},{"h":654,"a":85,"b":0,"c":0,"d":0},{"h":655,"a":85,"b":82,"c":0,"d":0},{"h":656,"a":83,"b":82,"c":0,"d":0},{"h":657,"a":81,"b":82,"c":73,"d":0},{"h":658,"a":77,"b":0,"c":73,"d":0},{"h":659,"a":75,"b":0,"c":74,"d":0},{"h":660,"a":0,"b":0,"c":74,"d":0},{"h":661,"a":0,"b":0,"c":76,"d":0},{"h":662,"a":0,"b":0,"c":80,"d":0},{"h":663,"a":0,"b":0,"c":81,"d":0},{"h":664,"a":0,"b":0,"c":81,"d":0},{"h":665,"a":78,"b":0,"c":79,"d":0},{"h":666,"a":0,"b":0,"c":75,"d":0},{"h":667,"a":78,"b":0,"c":76,"d":0},{"h":668,"a":78,"b":0,"c":74,"d":0},{"h":669,"a":78,"b":0,"c":74,"d":0},{"h":670,"a":0,"b":0,"c":74,"d":0},{"h":671,"a":0,"b":0,"c":74,"d":0},
{"h":672,"a":74,"b":38,"c":74,"d":0},{"h":673,"a":74,"b":38,"c":73,"d":0},{"h":674,"a":0,"b":0,"c":74,"d":0},{"h":675,"a":0,"b":0,"c":0,"d":0},{"h":676,"a":0,"b":0,"c":0,"d":0},{"h":677,"a":0,"b":0,"c":76,"d":0},{"h":678,"a":77,"b":0,"c":76,"d":0},{"h":679,"a":77,"b":0,"c":76,"d":0},{"h":680,"a":78,"b":0,"c":76,"d":0},{"h":681,"a":78,"b":0,"c":74,"d":0},{"h":682,"a":81,"b":0,"c":78,"d":0},{"h":683,"a":83,"b":0,"c":82,"d":0},{"h":684,"a":84,"b":0,"c":81,"d":0},{"h":685,"a":81,"b":0,"c":78,"d":0},{"h":686,"a":0,"b":0,"c":74,"d":0},{"h":687,"a":0,"b":0,"c":0,"d":0},{"h":688,"a":0,"b":0,"c":0,"d":0},{"h":689,"a":79,"b":0,"c":76,"d":0},{"h":690,"a":78,"b":74,"c":74,"d":0},{"h":691,"a":0,"b":74,"c":75,"d":0},{"h":692,"a":0,"b":0,"c":83,"d":0},{"h":693,"a":0,"b":0,"c":82,"d":0},{"h":694,"a":0,"b":0,"c":0,"d":0},{"h":695,"a":0,"b":0,"c":0,"d":0},
{"h":696,"a":76,"b":0,"c":75,"d":0},{"h":697,"a":76,"b":0,"c":77,"d":0},{"h":698,"a":0,"b":0,"c":78,"d":0},{"h":699,"a":0,"b":0,"c":0,"d":0},{"h":700,"a":0,"b":0,"c":0,"d":0},{"h":701,"a":0,"b":0,"c":0,"d":0},{"h":702,"a":0,"b":0,"c":0,"d":0},{"h":703,"a":0,"b":0,"c":80,"d":0},{"h":704,"a":0,"b":0,"c":84,"d":0},{"h":705,"a":0,"b":0,"c":85,"d":0},{"h":706,"a":0,"b":0,"c":84,"d":0},{"h":707,"a":0,"b":0,"c":82,"d":0},{"h":708,"a":0,"b":0,"c":76,"d":0},{"h":709,"a":0,"b":0,"c":75,"d":0},{"h":710,"a":0,"b":0,"c":0,"d":0},{"h":711,"a":0,"b":0,"c":0,"d":0},{"h":712,"a":0,"b":0,"c":0,"d":0},{"h":713,"a":0,"b":0,"c":82,"d":0},{"h":714,"a":41,"b":0,"c":82,"d":0},{"h":715,"a":41,"b":0,"c":78,"d":0},{"h":716,"a":0,"b":0,"c":0,"d":0},{"h":717,"a":0,"b":0,"c":0,"d":0},{"h":718,"a":0,"b":0,"c":71,"d":0},{"h":719,"a":0,"b":0,"c":71,"d":0}
]},
"data": {"name": "p"},
"layer": [
{"mark": {"type": "line", "strokeWidth": 4.5, "strokeJoin": "round", "strokeCap": "round"},
 "encoding": {
  "x": {"field": "h", "type": "quantitative", "scale": {"domain": [0, 720], "nice": false, "zero": false},
   "axis": {"title": null, "values": [0,24,48,72,96,120,144,168,192,216,240,264,288,312,336,360,384,408,432,456,480,504,528,552,576,600,624,648,672,696,720],
    "labelExpr": "datum.value >= 720 ? '' : (datum.value < 216 ? '0' : '') + (datum.value / 24 + 1) + '/11'",
    "labelAngle": -90, "labelFont": "Liberation Sans", "labelFontSize": 28, "labelFontWeight": "bold", "labelColor": "black",
    "labelPadding": 18, "tickSize": 10, "tickColor": "#808080", "tickWidth": 1.5, "domain": false, "grid": false, "labelOverlap": false}},
  "y": {"field": "a", "type": "quantitative", "scale": {"domain": [0, 100], "nice": false},
   "axis": {"title": null, "values": [0,10,20,30,40,50,60,70,80,90,100], "labelFont": "Liberation Sans", "labelFontSize": 32, "labelFontWeight": "bold", "labelColor": "black",
    "labelPadding": 14, "tickSize": 10, "tickColor": "#808080", "tickWidth": 1.5, "domainColor": "#808080", "domainWidth": 1.5,
    "grid": true, "gridColor": "#000000", "gridWidth": 1, "gridOpacity": 1}},
  "color": {"datum": "CHASTANG (LE) 1", "type": "nominal",
   "scale": {"domain": ["CHASTANG (LE) 1", "CHASTANG (LE) 2", "CHASTANG (LE) 3", "BROMMAT 7"], "range": ["#FF00FF", "#FFCC00", "#33CCCC", "#000080"]},
   "legend": {"orient": "none", "legendX": 49, "legendY": 1086, "direction": "horizontal", "title": null,
    "symbolType": "stroke", "symbolSize": 2809, "symbolStrokeWidth": 5, "labelFont": "Liberation Sans", "labelFontSize": 27,
    "labelFontWeight": "bold", "labelColor": "black", "labelOffset": 0, "columnPadding": 182, "padding": 0, "labelLimit": 0}}}},
{"mark": {"type": "line", "strokeWidth": 4.5, "strokeJoin": "round", "strokeCap": "round"},
 "encoding": {"x": {"field": "h", "type": "quantitative"}, "y": {"field": "b", "type": "quantitative", "title": null}, "color": {"datum": "CHASTANG (LE) 2", "type": "nominal"}}},
{"mark": {"type": "line", "strokeWidth": 4.5, "strokeJoin": "round", "strokeCap": "round"},
 "encoding": {"x": {"field": "h", "type": "quantitative"}, "y": {"field": "c", "type": "quantitative", "title": null}, "color": {"datum": "CHASTANG (LE) 3", "type": "nominal"}}},
{"mark": {"type": "line", "strokeWidth": 4.5, "strokeJoin": "round", "strokeCap": "round"},
 "encoding": {"x": {"field": "h", "type": "quantitative"}, "y": {"field": "d", "type": "quantitative", "title": null}, "color": {"datum": "BROMMAT 7", "type": "nominal"}}},
{"data": {"values": [{}]}, "mark": {"type": "rect", "fill": "white"},
 "encoding": {"x": {"datum": 0.6, "type": "quantitative", "title": null}, "x2": {"datum": 116}, "y": {"datum": 101, "type": "quantitative", "title": null}, "y2": {"datum": 91.5}}},
{"data": {"values": [{}]}, "mark": {"type": "text", "text": ["Puissance moyenne", "horaire (MW)"], "font": "Liberation Sans", "fontSize": 29, "fontWeight": "bold", "lineHeight": 38, "align": "center", "baseline": "middle", "color": "black"},
 "encoding": {"x": {"datum": 58.6, "type": "quantitative", "title": null}, "y": {"datum": 97.5, "type": "quantitative", "title": null}}},
{"data": {"values": [{}]}, "mark": {"type": "rect", "fill": "black"},
 "encoding": {"x": {"datum": 269.3, "type": "quantitative", "title": null}, "x2": {"datum": 455.1}, "y": {"datum": 103, "type": "quantitative", "title": null}, "y2": {"datum": 95.3}}},
{"data": {"values": [{}]}, "mark": {"type": "rect", "fill": "white", "stroke": "black", "strokeWidth": 3},
 "encoding": {"x": {"datum": 266.9, "type": "quantitative", "title": null}, "x2": {"datum": 452.8}, "y": {"datum": 103, "type": "quantitative", "title": null}, "y2": {"datum": 95.9}}},
{"data": {"values": [{}]}, "mark": {"type": "text", "text": "PRODUCTION HYDRAULIQUE", "font": "Liberation Sans", "fontSize": 32, "fontWeight": "bold", "align": "center", "baseline": "middle", "color": "black"},
 "encoding": {"x": {"datum": 359.9, "type": "quantitative", "title": null}, "y": {"datum": 99.2, "type": "quantitative", "title": null}}},
{"data": {"values": [{}]}, "mark": {"type": "rect", "fill": null, "stroke": "#555555", "strokeWidth": 2},
 "encoding": {"x": {"datum": -18.8, "type": "quantitative", "title": null}, "x2": {"datum": 709.1}, "y": {"datum": -12.1, "type": "quantitative", "title": null}, "y2": {"datum": -25}}}
]
}
